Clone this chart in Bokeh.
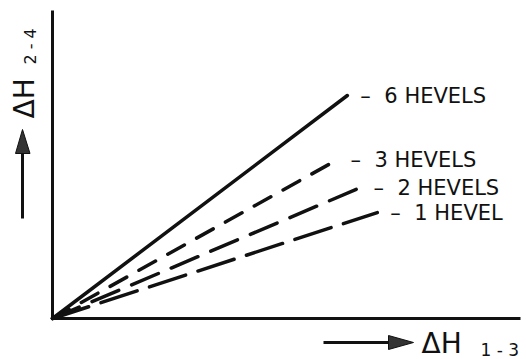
from bokeh.plotting import figure
from bokeh.models import Range1d, ColumnDataSource
from bokeh.core.properties import value
from bokeh.embed import file_html
from bokeh.resources import INLINE

# ---- data (arbitrary units, axes run 0..10) ----
series = ["6 HEVELS", "3 HEVELS", "2 HEVELS", "1 HEVEL"]
x_end = [6.30, 6.09, 6.58, 6.94]
y_end = [7.24, 5.16, 4.25, 3.44]
dashes = ["solid", "19 14", "29 14", "38 13"]
x_label = ("ΔH", "1 - 3")
y_label = ("ΔH", "2  -  4")

# ---- layout helpers (picture pixels -> data units) ----
OX, OY, SX, SY = 52.0, 318.0, 46.8, 30.8
def X(px):
    return (px - OX) / SX
def Y(py):
    return (OY - py) / SY

W, H = 526, 359
p = figure(width=W, height=H, output_backend="svg", toolbar_location=None,
           x_range=Range1d(X(0), X(W)), y_range=Range1d(Y(H), Y(0)),
           x_axis_type=None, y_axis_type=None, min_border=0,
           outline_line_color=None, background_fill_color="white",
           border_fill_color="white")
p.grid.visible = False

INK = "#111111"
FONT = value("DejaVu Sans")

# axes lines
p.line([0, 0], [0, 10], line_color=INK, line_width=3)
p.line([0, 10], [0, 0], line_color=INK, line_width=3)

# series lines
for xe, ye, d in zip(x_end, y_end, dashes):
    p.line([0, xe], [0, ye], line_color=INK, line_width=3.5,
           line_dash=d, line_cap="round")

# series labels: leader dash + name
src = ColumnDataSource(dict(x=x_end, y=y_end, t=series))
p.text(x="x", y="y", text=value("–"), source=src, x_offset=13, text_font=FONT,
       text_font_size="21px", text_align="left", text_baseline="middle",
       text_color=INK)
p.text(x="x", y="y", text="t", source=src, x_offset=37, text_font=FONT,
       text_font_size="21px", text_align="left", text_baseline="middle",
       text_color=INK)

# x axis label with arrow
ay = Y(342)
p.line([X(323), X(392)], [ay, ay], line_color=INK, line_width=3)
p.patch([X(388), X(413), X(388)], [Y(335), ay, Y(349)], fill_color="#333333",
        line_color=INK, line_width=1)
p.text(x=[X(421)], y=[Y(343)], text=[x_label[0]], text_font=FONT,
       text_font_size="28px", text_align="left", text_baseline="middle",
       text_color=INK)
p.text(x=[X(480)], y=[Y(349.5)], text=[x_label[1]], text_font=FONT,
       text_font_size="17px", text_align="left", text_baseline="middle",
       text_color=INK)

# y axis label with arrow
ax = X(22)
p.line([ax, ax], [Y(218), Y(150)], line_color=INK, line_width=3)
p.patch([X(15), ax, X(29.5)], [Y(153), Y(129), Y(153)], fill_color="#333333",
        line_color=INK, line_width=1)
p.text(x=[X(24)], y=[Y(118)], text=[y_label[0]], angle=1.5707963,
       text_font=FONT, text_font_size="28px", text_align="left",
       text_baseline="middle", text_color=INK)
p.text(x=[X(30)], y=[Y(64)], text=[y_label[1]], angle=1.5707963,
       text_font=FONT, text_font_size="16px", text_align="left",
       text_baseline="middle", text_color=INK)

open("out.html", "w").write(file_html(p, INLINE))
